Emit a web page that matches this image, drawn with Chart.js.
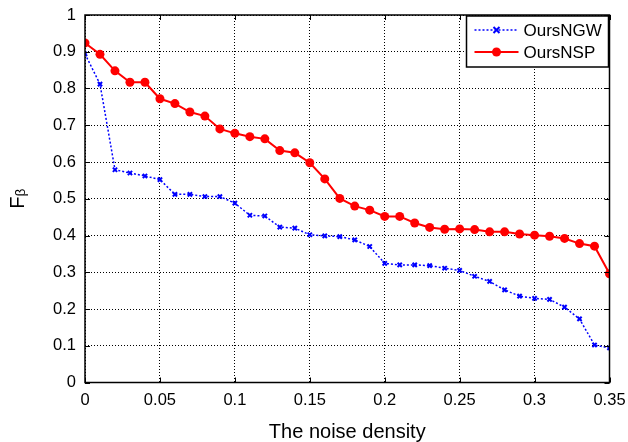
<!DOCTYPE html>
<html>
<head>
<meta charset="utf-8">
<script src="https://cdn.jsdelivr.net/npm/chart.js@4.4.1/dist/chart.umd.min.js"></script>
<style>
    html, body { margin: 0; padding: 0; background: #fff; }
    #wrap { width: 628px; height: 442px; }
</style>
</head>
<body>
<div id="wrap"><canvas id="fbetaChart" width="628" height="442"></canvas></div>
<script>
// noise density (x) and F-beta values
const noise = [0, 0.01, 0.02, 0.03, 0.04, 0.05, 0.06, 0.07, 0.08, 0.09,
               0.10, 0.11, 0.12, 0.13, 0.14, 0.15, 0.16, 0.17, 0.18, 0.19,
               0.20, 0.21, 0.22, 0.23, 0.24, 0.25, 0.26, 0.27, 0.28, 0.29,
               0.30, 0.31, 0.32, 0.33, 0.34, 0.35];

const oursNGW = [0.894, 0.812, 0.579, 0.570, 0.562, 0.552, 0.512, 0.512, 0.506, 0.506,
                 0.488, 0.455, 0.453, 0.423, 0.420, 0.402, 0.399, 0.397, 0.388, 0.370,
                 0.324, 0.320, 0.320, 0.318, 0.311, 0.305, 0.289, 0.275, 0.252, 0.235,
                 0.229, 0.226, 0.205, 0.173, 0.102, 0.094];

const oursNSP = [0.924, 0.893, 0.848, 0.817, 0.817, 0.772, 0.759, 0.736, 0.725, 0.690,
                 0.678, 0.669, 0.663, 0.631, 0.625, 0.598, 0.554, 0.501, 0.480, 0.469,
                 0.452, 0.452, 0.434, 0.422, 0.417, 0.418, 0.416, 0.410, 0.410, 0.404,
                 0.401, 0.398, 0.392, 0.378, 0.371, 0.296];

const xTicks = [0, 0.05, 0.1, 0.15, 0.2, 0.25, 0.3, 0.35];
const yTicks = [0, 0.1, 0.2, 0.3, 0.4, 0.5, 0.6, 0.7, 0.8, 0.9, 1];

const FONT = "'Liberation Sans', Arial, Helvetica, sans-serif";

function toPoints(ys){
    return noise.map((x, i) => ({ x: x, y: ys[i] }));
}

// MATLAB-like box, inward ticks and boxed legend
const axesBox = {
    id: "axesBox",
    afterDraw(chart){
        const ctx = chart.ctx;
        const a = chart.chartArea;
        const xs = chart.scales.x;
        const ys = chart.scales.y;
        const tl = 5;

        ctx.save();
        ctx.strokeStyle = "#000";
        ctx.lineWidth = 1;
        ctx.setLineDash([]);
        ctx.beginPath();
        xTicks.forEach(v => {
            const px = Math.round(xs.getPixelForValue(v)) + 0.5;
            ctx.moveTo(px, a.bottom); ctx.lineTo(px, a.bottom - tl);
            ctx.moveTo(px, a.top);    ctx.lineTo(px, a.top + tl);
        });
        yTicks.forEach(v => {
            const py = Math.round(ys.getPixelForValue(v)) + 0.5;
            ctx.moveTo(a.left, py);  ctx.lineTo(a.left + tl, py);
            ctx.moveTo(a.right, py); ctx.lineTo(a.right - tl, py);
        });
        ctx.stroke();

        ctx.lineWidth = 1.5;
        ctx.strokeRect(a.left, a.top, a.right - a.left, a.bottom - a.top);

        // legend
        const bw = 142, bh = 51;
        const bx = a.right - bw - 1, by = a.top + 1;
        ctx.fillStyle = "#fff";
        ctx.fillRect(bx, by, bw, bh);
        ctx.lineWidth = 1.5;
        ctx.strokeRect(bx, by, bw, bh);

        ctx.font = "17px " + FONT;
        ctx.textBaseline = "middle";
        ctx.textAlign = "left";
        chart.data.datasets.forEach((ds, i) => {
            const cy = by + 14 + i * 22;
            const x0 = bx + 8, x1 = bx + 52, xm = (x0 + x1) / 2;
            ctx.strokeStyle = ds.borderColor;
            ctx.lineWidth = ds.borderWidth;
            ctx.setLineDash(ds.borderDash || []);
            ctx.beginPath();
            ctx.moveTo(x0, cy); ctx.lineTo(x1, cy);
            ctx.stroke();
            ctx.setLineDash([]);
            if(ds.pointStyle === "circle"){
                ctx.fillStyle = ds.pointBackgroundColor;
                ctx.beginPath();
                ctx.arc(xm, cy, ds.pointRadius, 0, Math.PI * 2);
                ctx.fill();
            } else {
                ctx.lineWidth = 2;
                ctx.beginPath();
                ctx.moveTo(xm - 3, cy - 3); ctx.lineTo(xm + 3, cy + 3);
                ctx.moveTo(xm - 3, cy + 3); ctx.lineTo(xm + 3, cy - 3);
                ctx.stroke();
            }
            ctx.fillStyle = "#000";
            ctx.fillText(ds.label, x1 + 5, cy + 1);
        });
        ctx.restore();
    }
};

new Chart(document.getElementById("fbetaChart"), {
    type: "line",
    data: {
        datasets: [{
            label: "OursNGW",
            data: toPoints(oursNGW),
            borderColor: "#0000ff",
            backgroundColor: "#0000ff",
            borderWidth: 1.5,
            borderDash: [2, 2],
            pointStyle: "crossRot",
            pointRadius: 3,
            pointBorderWidth: 2,
            pointBorderColor: "#0000ff",
            tension: 0
        }, {
            label: "OursNSP",
            data: toPoints(oursNSP),
            borderColor: "#ff0000",
            backgroundColor: "#ff0000",
            borderWidth: 2,
            pointStyle: "circle",
            pointRadius: 4.5,
            pointBackgroundColor: "#ff0000",
            pointBorderColor: "#ff0000",
            pointBorderWidth: 0,
            tension: 0
        }]
    },
    options: {
        responsive: false,
        animation: false,
        devicePixelRatio: 1,
        layout: { padding: { top: 15, right: 18.5, left: 0, bottom: 0 } },
        plugins: {
            legend: { display: false },
            tooltip: { enabled: false }
        },
        scales: {
            x: {
                type: "linear",
                min: 0,
                max: 0.35,
                afterBuildTicks: s => { s.ticks = xTicks.map(v => ({ value: v })); },
                afterFit: s => { s.height = 59.5; s.paddingLeft = 0; s.paddingRight = 0; },
                ticks: {
                    color: "#000",
                    font: { family: FONT, size: 16.5 },
                    padding: 8,
                    maxRotation: 0,
                    callback: v => String(v)
                },
                grid: {
                    color: "#000",
                    lineWidth: 1,
                    drawTicks: false
                },
                border: { display: false, dash: [1, 2] },
                title: {
                    display: true,
                    text: "The noise density",
                    color: "#000",
                    font: { family: FONT, size: 20, lineHeight: 1 },
                    padding: { top: 0, bottom: 0 }
                }
            },
            y: {
                min: 0,
                max: 1,
                afterBuildTicks: s => { s.ticks = yTicks.map(v => ({ value: v })); },
                afterFit: s => { s.width = 85; s.paddingTop = 0; s.paddingBottom = 0; },
                ticks: {
                    color: "#000",
                    font: { family: FONT, size: 16.5 },
                    padding: 9,
                    callback: v => String(v)
                },
                grid: {
                    color: "#000",
                    lineWidth: 1,
                    drawTicks: false
                },
                border: { display: false, dash: [1, 2] },
                title: {
                    display: true,
                    text: "Fᵦ",
                    color: "#000",
                    font: { family: FONT, size: 20 },
                    padding: { top: 6, bottom: 0 }
                }
            }
        }
    },
    plugins: [axesBox]
});
</script>
</body>
</html>
